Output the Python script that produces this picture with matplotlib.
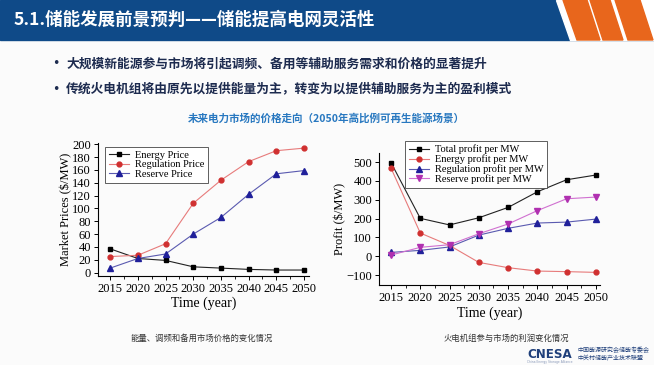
import matplotlib

matplotlib.use("Agg")

import matplotlib.pyplot as plt
from matplotlib.patches import Polygon, Rectangle
from matplotlib.ticker import MultipleLocator

# ---- data ----
years = [2015, 2020, 2025, 2030, 2035, 2040, 2045, 2050]

energy_price = [37, 22, 19, 9, 7, 5, 4, 4]
regulation_price = [25, 27, 45, 108, 144, 173, 190, 194]
reserve_price = [7, 22, 29, 60, 86, 122, 154, 159]

total_profit = [497, 201, 166, 204, 259, 342, 406, 431]
energy_profit = [468, 123, 57, -33, -61, -79, -82, -86]
regulation_profit = [20, 31, 49, 112, 148, 176, 181, 197]
reserve_profit = [6, 47, 61, 119, 171, 242, 305, 314]

title = "5.1.储能发展前景预判——储能提高电网灵活性"
bullets = ["大规模新能源参与市场将引起调频、备用等辅助服务需求和价格的显著提升",
           "传统火电机组将由原先以提供能量为主，转变为以提供辅助服务为主的盈利模式"]
subtitle = "未来电力市场的价格走向（2050年高比例可再生能源场景）"
captions = ["能量、调频和备用市场价格的变化情况", "火电机组参与市场的利润变化情况"]

CJK = ["Noto Sans CJK SC", "DejaVu Sans"]
SERIF = "Liberation Serif"
W, H = 654, 365

fig = plt.figure(figsize=(W / 100, H / 100), dpi=100)
fig.patch.set_facecolor("#fbfbfb")

# slide background drawn in pixel coordinates
bg = fig.add_axes([0, 0, 1, 1], zorder=0)
bg.set_xlim(0, W)
bg.set_ylim(H, 0)
bg.axis("off")
bg.add_patch(Rectangle((0, 0), W, 40, color="#0f4a88"))
bg.add_patch(Polygon([(556, 0), (W, 0), (W, 40), (570, 40)], color="white"))
for stripe in ([(563, 0), (587, 0), (600, 40), (577, 40)],
               [(590, 0), (610, 0), (623, 40), (603, 40)],
               [(615, 0), (640, 0), (653, 40), (628, 40)]):
    bg.add_patch(Polygon(stripe, color="#e8661c"))

bg.text(14, 20, title, color="white", fontsize=12.6, fontweight="bold", family=CJK, va="center")
for y, line in zip([64, 89], bullets):
    bg.text(56, y, "•", color="#1d2b4f", fontsize=9, va="center", ha="center")
    bg.text(66, y, line, color="#1d2b4f", fontsize=9.2, fontweight="bold", family=CJK, va="center")
bg.text(326, 118, subtitle, color="#2878c0", fontsize=7.6, fontweight="bold", family=CJK,
        ha="center", va="center")
bg.text(202, 338, captions[0], color="#333333", fontsize=6, family=CJK, ha="center", va="center")
bg.text(506, 338, captions[1], color="#333333", fontsize=6, family=CJK, ha="center", va="center")

bg.text(527, 354, "CNESA", color="#1f3f7a", fontsize=8.6, fontweight="bold", va="center")
bg.text(577, 350, "中国能源研究会储能专委会", color="#1f3f7a", fontsize=4.3, family=CJK, va="center")
bg.text(577, 358, "中关村储能产业技术联盟", color="#1f3f7a", fontsize=4.3, family=CJK, va="center")
bg.text(527, 362, "China Energy Storage Alliance", color="#8898b8", fontsize=2.2, va="center")


def style_axes(ax):
    for side in ("top", "right"):
        ax.spines[side].set_visible(False)
    for side in ("left", "bottom"):
        ax.spines[side].set_linewidth(0.8)
    ax.set_facecolor("none")
    ax.set_xticks(years)
    ax.xaxis.set_minor_locator(MultipleLocator(2.5))
    ax.tick_params(which="major", direction="out", length=3, width=0.7, labelsize=9, pad=2)
    ax.tick_params(which="minor", direction="out", length=2, width=0.6)
    for lab in ax.get_xticklabels() + ax.get_yticklabels():
        lab.set_family(SERIF)


def add_legend(ax, x_px, y_px):
    leg = ax.legend(loc="upper left", bbox_to_anchor=(x_px / W, 1 - y_px / H),
                    bbox_transform=fig.transFigure, borderaxespad=0, fancybox=False,
                    prop={"family": SERIF, "size": 7.5}, handlelength=2.0, labelspacing=0.02,
                    borderpad=0.35, handletextpad=0.5)
    leg.get_frame().set_edgecolor("#444444")
    leg.get_frame().set_linewidth(0.6)
    leg.get_frame().set_alpha(1)


# ---- left chart: market prices ----
ax1 = fig.add_axes([98 / W, 1 - 276 / H, 211 / W, 133 / H], zorder=2)
ax1.plot(years, energy_price, "s-", color="#222222", mfc="black", mec="black",
         ms=3.5, lw=0.8, label="Energy Price")
ax1.plot(years, regulation_price, "o-", color="#e77b7b", mfc="#d03030", mec="#d03030",
         ms=3.5, lw=0.8, label="Regulation Price")
ax1.plot(years, reserve_price, "^-", color="#5a5ab0", mfc="#20209a", mec="#20209a",
         ms=3.8, lw=0.8, label="Reserve Price")
ax1.set_xlim(2012.8, 2050.9)
ax1.set_ylim(-5.3, 202)
ax1.set_yticks(range(0, 201, 20))
style_axes(ax1)
ax1.set_ylabel("Market Prices ($/MW)", family=SERIF, fontsize=9, labelpad=0)
ax1.set_xlabel("Time (year)", family=SERIF, fontsize=10, labelpad=1)
add_legend(ax1, 105, 147)

# ---- right chart: profits ----
ax2 = fig.add_axes([379 / W, 1 - 285 / H, 221 / W, 132 / H], zorder=2)
ax2.plot(years, total_profit, "s-", color="#222222", mfc="black", mec="black",
         ms=3.5, lw=0.8, label="Total profit per MW")
ax2.plot(years, energy_profit, "o-", color="#e77b7b", mfc="#d03030", mec="#d03030",
         ms=3.5, lw=0.8, label="Energy profit per MW")
ax2.plot(years, regulation_profit, "^-", color="#5a5ab0", mfc="#20209a", mec="#20209a",
         ms=3.8, lw=0.8, label="Regulation profit per MW")
ax2.plot(years, reserve_profit, "v-", color="#d070d0", mfc="#b030b0", mec="#b030b0",
         ms=3.8, lw=0.8, label="Reserve profit per MW")
ax2.set_xlim(2012.95, 2050.7)
ax2.set_ylim(-153, 548)
ax2.set_yticks(range(-100, 501, 100))
style_axes(ax2)
ax2.set_ylabel("Profit ($/MW)", family=SERIF, fontsize=9, labelpad=0)
ax2.set_xlabel("Time (year)", family=SERIF, fontsize=10, labelpad=2)
add_legend(ax2, 405, 141)

fig.savefig("out.png", dpi=100, facecolor=fig.get_facecolor())
